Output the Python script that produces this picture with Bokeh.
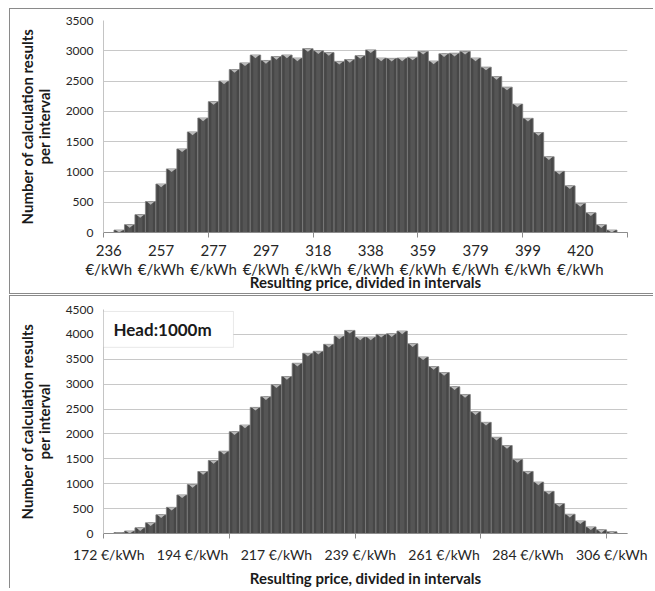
from bokeh.plotting import figure
from bokeh.models import Range1d, FixedTicker, BoxAnnotation, Label
from bokeh.layouts import column
from bokeh.embed import file_html
from bokeh.resources import INLINE

# ---------------- data ----------------
unit = "€/kWh"

top_labels = ["236", "257", "277", "297", "318", "338", "359", "379", "399", "420"]
top_counts = [0, 40, 130, 295, 510, 800, 1050, 1380, 1660, 1890,
              2160, 2500, 2690, 2800, 2930, 2840, 2905, 2930, 2880, 3035,
              3000, 2970, 2825, 2855, 2920, 3015, 2880, 2875, 2880, 2895,
              2990, 2830, 2950, 2960, 2990, 2880, 2730, 2575, 2400, 2120,
              1885, 1650, 1250, 1010, 770, 480, 325, 127, 40, 0]
top_label_every = 5
top_tick_every = 10
top_ymax = 3500

bottom_labels = ["172", "194", "217", "239", "261", "284", "306"]
bottom_counts = [0, 20, 50, 115, 215, 375, 525, 775, 985, 1245,
                 1467, 1653, 2045, 2178, 2533, 2747, 2987, 3153, 3420, 3620,
                 3660, 3800, 3967, 4080, 3947, 3947, 4000, 4013, 4067, 3813,
                 3547, 3353, 3233, 2947, 2793, 2447, 2233, 1933, 1767, 1487,
                 1247, 1033, 847, 600, 387, 253, 133, 73, 33, 0]
bottom_label_every = 8
bottom_tick_every = 12
bottom_ymax = 4500

y_title = "Number of calculation results\nper interval"
x_title = "Resulting price, divided in intervals"
head_text = "Head:1000m"

FONT = "Lato"
BAR = "#474747"
BAR_EDGE = "#7c7c7c"
BAR_HI = "#555555"
CAP = "#b9b9b9"
BORDER = "1px solid #8a8a8a"


def panel(counts, labels, label_every, tick_every, ymax, two_line,
          height, borders, frame_h, tick_standoff, title_standoff, tick_size):
    n = len(counts)
    p = figure(width=644, height=height, output_backend="svg",
               toolbar_location=None, tools="",
               x_range=Range1d(0, n), y_range=Range1d(0, ymax),
               min_border_left=borders[0], min_border_right=borders[1],
               min_border_top=borders[2], min_border_bottom=borders[3])
    p.outline_line_color = None
    p.background_fill_color = "white"
    p.border_fill_color = "white"

    xs = [i + 0.5 for i in range(n)]
    p.vbar(x=xs, width=1.0, top=counts, bottom=0,
           fill_color=BAR, line_color=BAR_EDGE, line_width=0.8)
    p.vbar(x=xs, width=0.42, top=counts, bottom=0,
           fill_color=BAR_HI, line_color=None)
    # light top face of the 3D columns
    d = 3.2 * ymax / frame_h
    cx, cy = [], []
    for x, v in zip(xs, counts):
        if v > 0:
            h = min(d, v)
            cx.append([x - 0.36, x + 0.36, x])
            cy.append([v, v, v - h])
    p.patches(cx, cy, fill_color=CAP, line_color=None)

    # x axis: labels at category centres, tick marks at category borders
    lab_pos = [i * label_every + 0.5 for i in range(len(labels))]
    sep = "\n" if two_line else " "
    overrides = {pos: f"{lab}{sep}{unit}" for pos, lab in zip(lab_pos, labels)}
    p.xaxis.ticker = FixedTicker(ticks=lab_pos,
                                 minor_ticks=list(range(0, n + 1, tick_every)))
    p.xaxis.major_label_overrides = overrides
    p.xaxis.major_tick_out = 0
    p.xaxis.major_tick_in = 0
    p.xaxis.minor_tick_out = 5
    p.xaxis.minor_tick_in = 0
    p.xaxis.minor_tick_line_color = "#8c8c8c"
    p.xaxis.axis_line_color = "#8c8c8c"
    p.xaxis.major_label_text_font = FONT
    p.xaxis.major_label_text_font_size = tick_size
    p.xaxis.major_label_text_color = "#262626"
    p.xaxis.major_label_text_line_height = 1.1
    p.xaxis.major_label_standoff = tick_standoff
    p.xaxis.axis_label = x_title
    p.xaxis.axis_label_text_font = FONT
    p.xaxis.axis_label_text_font_style = "bold"
    p.xaxis.axis_label_text_font_size = "15px"
    p.xaxis.axis_label_text_color = "#1a1a1a"
    p.xaxis.axis_label_standoff = title_standoff

    p.yaxis.ticker = FixedTicker(ticks=list(range(0, ymax + 1, 500)))
    p.yaxis.axis_line_color = "#c4c4c4"
    p.yaxis.major_tick_out = 0
    p.yaxis.major_tick_in = 0
    p.yaxis.minor_tick_line_color = None
    p.yaxis.major_label_text_font = FONT
    p.yaxis.major_label_text_font_size = "12px"
    p.yaxis.major_label_text_color = "#262626"
    p.yaxis.major_label_standoff = 10
    p.yaxis.axis_label = y_title
    p.yaxis.axis_label_text_font = FONT
    p.yaxis.axis_label_text_font_style = "bold"
    p.yaxis.axis_label_text_font_size = "15px"
    p.yaxis.axis_label_text_line_height = 0.9
    p.yaxis.axis_label_text_color = "#1a1a1a"
    p.yaxis.axis_label_standoff = 10

    p.xgrid.grid_line_color = None
    p.ygrid.grid_line_color = "#c8c8c8"
    p.ygrid.grid_line_width = 1
    return p


top = panel(top_counts, top_labels, top_label_every, top_tick_every, top_ymax,
            True, 286, (93, 16, 11, 63), 212, 3, -8, "15px")
top.styles = {"border-left": BORDER, "border-top": BORDER, "border-bottom": BORDER}

bottom = panel(bottom_counts, bottom_labels, bottom_label_every, bottom_tick_every,
               bottom_ymax, False, 293, (86, 27, 13, 55), 225, 7, 3, "14px")
bottom.styles = {"border-left": BORDER, "border-top": BORDER}

box = BoxAnnotation(left=0, right=12.4, bottom=3740, top=4460,
                    fill_color="white", fill_alpha=1.0,
                    line_color="#b5b5b5", line_width=1)
bottom.add_layout(box)
bottom.add_layout(Label(x=0.95, y=4090, text=head_text, text_font=FONT,
                        text_font_style="bold", text_font_size="17px",
                        text_color="#1a1a1a", text_baseline="middle"))

layout = column(top, bottom, spacing=1)
layout.styles = {"margin-top": "8px", "margin-left": "9px"}
open("out.html", "w").write(file_html(layout, INLINE))
